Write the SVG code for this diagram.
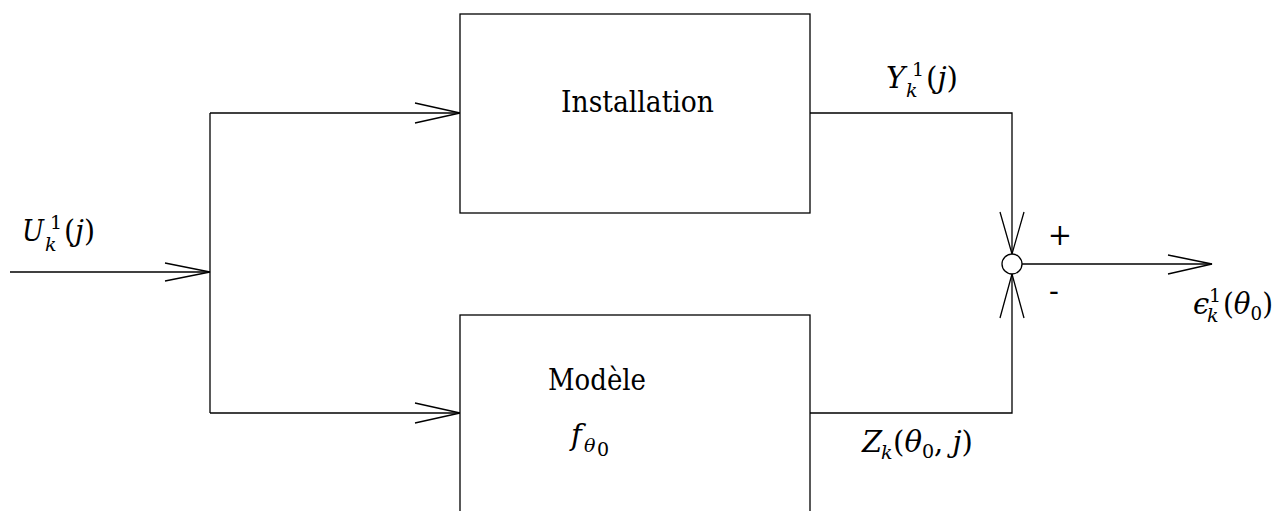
<svg xmlns="http://www.w3.org/2000/svg" width="1280" height="511" viewBox="0 0 1280 511">
<style>
.ln{fill:none;stroke:#000;stroke-width:1.3}
.box{fill:#fff;stroke:#000;stroke-width:1.3}
text{fill:#000;font-family:"DejaVu Serif","Liberation Serif",serif}
.t{font-size:29px}
.m{font-size:29px;font-style:italic}
.s{font-size:19px}
.si{font-size:19px;font-style:italic}
</style>
<g id="connectors">
<path class="ln" d="M10,272 H210"/>
<path class="ln" d="M165,263 L210,272 L165,281"/>
<path class="ln" d="M210,113 V413"/>
<path class="ln" d="M210,113 H460"/>
<path class="ln" d="M415,103 L460,113 L415,123"/>
<path class="ln" d="M210,413 H460"/>
<path class="ln" d="M415,403 L460,413 L415,423"/>
<path class="ln" d="M810,113 H1012 V254"/>
<path class="ln" d="M1000,212 L1012,254 L1024,212"/>
<path class="ln" d="M810,413 H1012 V274"/>
<path class="ln" d="M1000,318 L1012,274 L1024,318"/>
<path class="ln" d="M1022,264 H1212"/>
<path class="ln" d="M1168,255 L1212,264 L1168,274"/>
</g>
<g id="installation">
<rect class="box" x="460" y="14" width="350" height="199"/>
<text class="t" x="561" y="112" textLength="153" lengthAdjust="spacingAndGlyphs">Installation</text>
</g>
<g id="modele">
<rect class="box" x="460" y="315" width="350" height="210"/>
<text class="t" x="548" y="390" textLength="98" lengthAdjust="spacingAndGlyphs">Modèle</text>
<text class="m" x="571" y="445">f</text>
<text class="si" x="584" y="452">θ</text>
<text class="s" font-size="14" x="597" y="456">0</text>
</g>
<g id="sum">
<circle class="box" cx="1012" cy="264" r="10"/>
<text class="t" font-size="34" x="1060" y="245" text-anchor="middle">+</text>
<text class="t" font-size="22" x="1054" y="301" text-anchor="middle">-</text>
</g>
<g id="labels">
<g id="label-u">
<text class="m" x="22" y="241" textLength="22" lengthAdjust="spacingAndGlyphs">U</text>
<text class="si" x="45" y="251">k</text>
<text class="s" x="50" y="229">1</text>
<text class="t" x="64" y="241" textLength="31" lengthAdjust="spacingAndGlyphs">(<tspan font-style="italic">j</tspan>)</text>
</g>
<g id="label-y">
<text class="m" x="886" y="88">Y</text>
<text class="si" x="906" y="97">k</text>
<text class="s" x="912" y="76">1</text>
<text class="t" x="926" y="88" textLength="32" lengthAdjust="spacingAndGlyphs">(<tspan font-style="italic">j</tspan>)</text>
</g>
<g id="label-z">
<text class="m" x="862" y="452">Z</text>
<text class="si" x="881" y="459">k</text>
<text class="t" x="893" y="452" textLength="80" lengthAdjust="spacingAndGlyphs">(<tspan font-style="italic">θ</tspan><tspan font-size="19" dy="6">0</tspan><tspan dy="-6">, </tspan><tspan font-style="italic">j</tspan>)</text>
</g>
<g id="label-eps">
<text class="m" x="1193" y="314">ϵ</text>
<text class="si" x="1207" y="322">k</text>
<text class="s" x="1209" y="302">1</text>
<text class="t" x="1223" y="314" textLength="50" lengthAdjust="spacingAndGlyphs">(<tspan font-style="italic">θ</tspan><tspan font-size="19" dy="6">0</tspan><tspan dy="-6">)</tspan></text>
</g>
</g>
</svg>
